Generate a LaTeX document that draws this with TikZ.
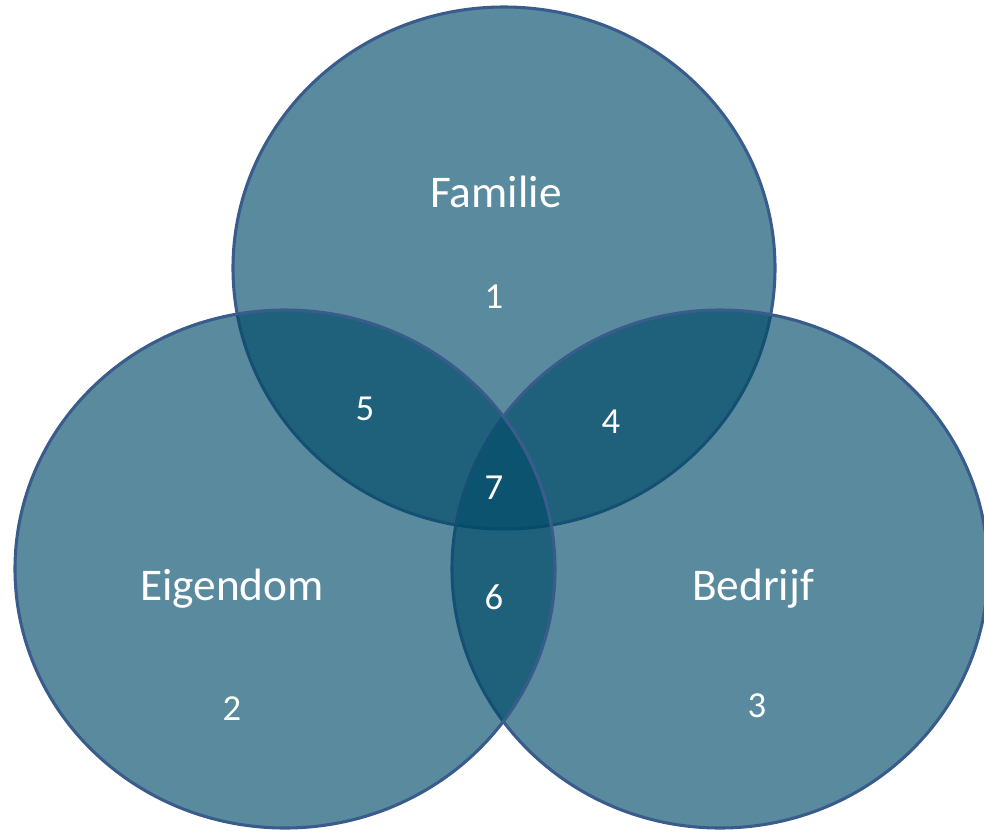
\documentclass[tikz,border=0pt]{standalone}
\usepackage{fontspec}
\setmainfont{Carlito}
\definecolor{vennfill}{RGB}{0,75,104}
\definecolor{vennedge}{RGB}{58,92,140}
\tikzset{
  venn/.style={fill=vennfill, fill opacity=0.65, draw=vennedge, line width=2.3pt},
  biglabel/.style={text=white, anchor=base, inner sep=0pt, font=\fontsize{34}{40}\selectfont},
  numlabel/.style={text=white, anchor=base, inner sep=0pt, font=\fontsize{27.5}{33}\selectfont}
}
\begin{document}
\begin{tikzpicture}[x=0.75pt,y=-0.75pt]
\useasboundingbox (0,0) rectangle (984,832);
\begin{scope}
\clip (0,0) rectangle (984,832);
\draw[venn] (504,268) ellipse [x radius=271, y radius=261];
\draw[venn] (720,569) ellipse [x radius=268, y radius=259];
\draw[venn] (285,569) ellipse [x radius=270, y radius=259];
\end{scope}
\node[biglabel] (familie) at (496,207) {Familie};
\node[biglabel] (eigendom) at (232,600) {Eigendom};
\node[biglabel] (bedrijf) at (753,600) {Bedrijf};
\node[numlabel] (n1) at (494,308) {1};
\node[numlabel] (n2) at (232,720) {2};
\node[numlabel] (n3) at (757,717) {3};
\node[numlabel] (n4) at (611,433) {4};
\node[numlabel] (n5) at (365,420) {5};
\node[numlabel] (n6) at (494,609) {6};
\node[numlabel] (n7) at (494,499) {7};
\end{tikzpicture}
\end{document}
